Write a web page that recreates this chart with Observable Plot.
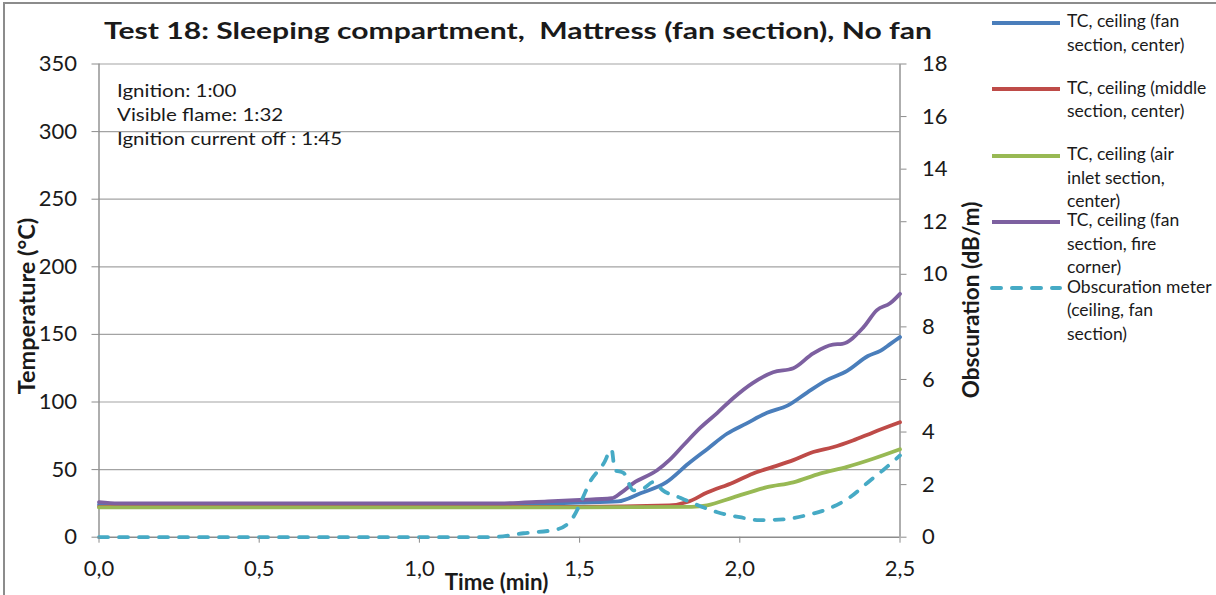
<!DOCTYPE html>
<html><head><meta charset="utf-8">
<script src="https://cdn.jsdelivr.net/npm/d3@7"></script>
<script src="https://cdn.jsdelivr.net/npm/@observablehq/plot@0.6"></script>
<style>
body{margin:0;background:#fff;font-family:Lato,"DejaVu Sans",sans-serif;color:#1a1a1a;}
#wrap{position:relative;width:1216px;height:595px;overflow:hidden;background:#fff;}
#frame{position:absolute;left:3px;top:2px;width:1300px;height:700px;border-left:2px solid #8c8c8c;border-top:2px solid #8c8c8c;}
#chart{position:absolute;left:0;top:0;}
.title{position:absolute;left:517.5px;top:15px;line-height:30px;font-weight:700;font-size:23.5px;white-space:pre;transform:translateX(-50%) scaleX(1.28);}
.axt{position:absolute;font-weight:700;white-space:nowrap;transform:translate(-50%,-50%);line-height:26px;}
.rot{transform:translate(-50%,-50%) rotate(-90deg);}
.notes{position:absolute;left:117px;top:78px;font-size:18px;line-height:24px;white-space:pre;transform-origin:0 0;transform:scaleX(1.14);}
.leg{position:absolute;left:990px;}
.leg svg{position:absolute;left:0;top:-5px;}
.leg div{position:absolute;left:77px;top:-13.5px;font-size:17.5px;line-height:23.5px;white-space:pre;}
</style></head><body>
<div id="wrap">
  <div id="frame"></div>
  <div id="chart"></div>
  <div class="title" id="title"></div>
  <div class="notes" id="notes"></div>
  <div class="axt" id="xlab" style="left:496.5px;top:582px;font-size:22.3px;"></div>
  <div class="axt rot" id="ylab" style="left:26px;top:306px;font-size:23.5px;"></div>
  <div class="axt rot" id="y2lab" style="left:971px;top:300px;font-size:22.5px;"></div>
  <div id="legend"></div>
</div>
<script>
// ---- text ----
const titleText = "Test 18: Sleeping compartment,  Mattress (fan section), No fan";
const xTitle = "Time (min)";
const yTitle = "Temperature (°C)";
const y2Title = "Obscuration (dB/m)";
const notes = ["Ignition: 1:00", "Visible flame: 1:32", "Ignition current off : 1:45"];

// ---- ticks ----
const timeTicks = [0, 0.5, 1.0, 1.5, 2.0, 2.5];
const tempTicks = [0, 50, 100, 150, 200, 250, 300, 350];
const obscTicks = [0, 2, 4, 6, 8, 10, 12, 14, 16, 18];

// ---- series names (legend wording) ----
const seriesNames = [
  "TC, ceiling (fan\nsection, center)",
  "TC, ceiling (middle\nsection, center)",
  "TC, ceiling (air\ninlet section,\ncenter)",
  "TC, ceiling (fan\nsection, fire\ncorner)",
  "Obscuration meter\n(ceiling, fan\nsection)"
];

// ---- TC ceiling, fan section, center (°C) ----
const fanCenterTime = [0, 0.5, 1.0, 1.25, 1.4, 1.5, 1.62, 1.69, 1.77, 1.84, 1.90, 1.96, 2.02, 2.085, 2.15, 2.21, 2.27, 2.335, 2.40, 2.44, 2.47, 2.5];
const fanCenterTemp = [24, 24, 24, 24, 24.8, 25.5, 26.5, 32.5, 40.5, 54.5, 65.5, 76.5, 84, 92, 97.5, 107, 116, 123, 134, 138, 143, 148];

// ---- TC ceiling, middle section, center (°C) ----
const middleTime = [0, 1.0, 1.5, 1.78, 1.836, 1.898, 1.98, 2.04, 2.104, 2.167, 2.229, 2.29, 2.353, 2.416, 2.5];
const middleTemp = [22.5, 22.5, 22.5, 23.5, 26, 33, 40.5, 47, 52, 57, 63, 66.5, 71.5, 77.5, 85];

// ---- TC ceiling, air inlet section, center (°C) ----
const inletTime = [0, 1.0, 1.5, 1.85, 1.898, 1.98, 2.085, 2.167, 2.25, 2.335, 2.416, 2.5];
const inletTemp = [22, 22, 22, 22.5, 23.6, 29.5, 37, 40.6, 47, 52, 58, 65];

// ---- TC ceiling, fan section, fire corner (°C) ----
const cornerTime = [0, 0.06, 0.5, 1.0, 1.25, 1.4, 1.5, 1.6, 1.63, 1.668, 1.742, 1.78, 1.824, 1.877, 1.93, 1.98, 2.04, 2.104, 2.167, 2.229, 2.29, 2.32, 2.385, 2.428, 2.469, 2.5];
const cornerTemp = [26, 25, 25, 25, 25, 26.5, 27.5, 28.8, 33, 40, 49.5, 57, 68, 81, 92, 103, 114, 122, 125, 136, 142.5, 143, 155, 168, 173, 180];

// ---- Obscuration meter (dB/m) ----
const obscTime = [0, 0.5, 1.0, 1.22, 1.325, 1.43, 1.48, 1.51, 1.53, 1.575, 1.60, 1.61, 1.637, 1.668, 1.70, 1.73, 1.76, 1.814, 1.855, 1.93, 2.0, 2.06, 2.135, 2.21, 2.28, 2.344, 2.407, 2.447, 2.5];
const obscValue = [0, 0, 0, 0, 0.15, 0.3, 0.76, 1.5, 2.05, 2.8, 3.33, 2.55, 2.45, 1.78, 1.86, 2.1, 1.78, 1.5, 1.29, 0.95, 0.76, 0.65, 0.68, 0.84, 1.1, 1.52, 2.16, 2.55, 3.11];

// ---- build ----
const tempMax = 350, obscMax = 18;
const toRows = (ts, vs) => ts.map((t, i) => ({t, v: vs[i]}));
const colors = ["#4a7ebb", "#be4b48", "#98b954", "#7d60a0", "#46aac5"];
const tempSeries = [
  toRows(fanCenterTime, fanCenterTemp),
  toRows(middleTime, middleTemp),
  toRows(inletTime, inletTemp),
  toRows(cornerTime, cornerTemp)
];
const obscRows = toRows(obscTime, obscValue);
const scaleObsc = o => o * tempMax / obscMax;

const gridColor = "#a3a3a3", axisColor = "#8c8c8c", textColor = "#1a1a1a";
const comma = d => d.toFixed(1).replace(".", ",");

const chart = Plot.plot({
  width: 960, height: 595,
  marginLeft: 98.5, marginRight: 60.5, marginTop: 63.5, marginBottom: 58.3,
  x: {domain: [0, 2.5]},
  y: {domain: [0, tempMax]},
  style: {fontFamily: "Lato, sans-serif", fontSize: "22px", background: "transparent", color: textColor, overflow: "visible"},
  marks: [
    Plot.ruleY(tempTicks.filter(v => v > 0), {stroke: gridColor, strokeWidth: 1.2}),
    Plot.ruleX([0, 2.5], {stroke: axisColor, strokeWidth: 1.4}),
    Plot.ruleY([0], {stroke: axisColor, strokeWidth: 1.4}),
    ...tempSeries.map((rows, i) => Plot.line(rows, {x: "t", y: "v", stroke: colors[i], strokeWidth: 3.8, curve: "monotone-x"})),
    Plot.line(obscRows, {x: "t", y: d => scaleObsc(d.v), stroke: colors[4], strokeWidth: 3.8, strokeDasharray: "9,11", strokeLinecap: "round", curve: "monotone-x"}),
    Plot.axisX(timeTicks, {tickSize: 6, tickPadding: 17, tickFormat: comma, stroke: axisColor, fill: textColor, label: null, fontSize: 22}),
    Plot.axisY(tempTicks, {anchor: "left", tickSize: 7, tickPadding: 15, stroke: axisColor, fill: textColor, label: null, fontSize: 22}),
    Plot.axisY(obscTicks.map(scaleObsc), {anchor: "right", tickSize: 6, tickPadding: 16, tickFormat: d => String(Math.round(d * obscMax / tempMax)), stroke: axisColor, fill: textColor, label: null, fontSize: 22})
  ]
});
document.getElementById("chart").appendChild(chart);
document.getElementById("title").textContent = titleText;
document.getElementById("notes").textContent = notes.join("\n");
document.getElementById("xlab").textContent = xTitle;
document.getElementById("ylab").textContent = yTitle;
document.getElementById("y2lab").textContent = y2Title;

const legend = document.getElementById("legend");
seriesNames.forEach((name, i) => {
  const item = document.createElement("div");
  item.className = "leg";
  item.style.top = (22.7 + i * 66.4) + "px";
  const dash = i === 4 ? ' stroke-dasharray="9,11" stroke-linecap="round"' : '';
  item.innerHTML = `<svg width="72" height="10"><line x1="2" y1="5" x2="70" y2="5" stroke="${colors[i]}" stroke-width="4"${dash}/></svg>`;
  const label = document.createElement("div");
  label.textContent = name;
  item.appendChild(label);
  legend.appendChild(item);
});
</script>
</body></html>
